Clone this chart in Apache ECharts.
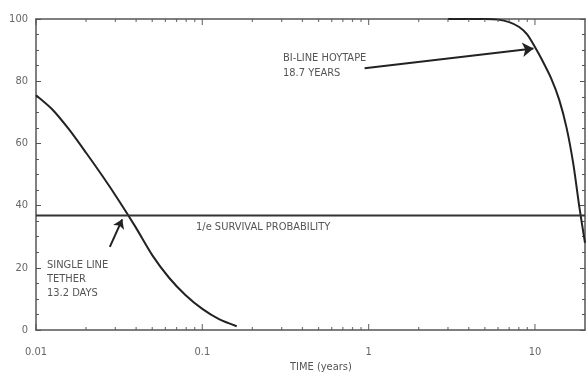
<!DOCTYPE html>
<html><head><meta charset="utf-8">
<script src="https://cdn.jsdelivr.net/npm/echarts@6/dist/echarts.min.js"></script>
<style>html,body{margin:0;padding:0;background:#fff}#c{width:587px;height:374px}</style>
</head><body><div id="c"></div>
<script>
// ---- data ----
const singleLineX = [0.01, 0.0125, 0.0158, 0.02, 0.0251, 0.0316, 0.0398, 0.0501, 0.0631, 0.0794, 0.1, 0.126, 0.161];
const singleLineY = [75.5, 71.0, 64.5, 57.0, 49.5, 41.5, 33.0, 24.0, 16.8, 11.2, 6.8, 3.5, 1.2];
const hoytapeX = [3, 5.0, 6.0, 7.0, 8.0, 9.0, 10.0, 11.0, 12.5, 14.0, 15.5, 17.0, 18.5, 20];
const hoytapeY = [100, 100, 99.8, 99.0, 97.5, 95.0, 91.0, 87.0, 81.0, 74.0, 65.0, 53.5, 39.5, 28];
const survivalX = [0.01, 20];
const survivalY = [36.8, 36.8];
const xMajorTicks = [0.01, 0.1, 1, 10];
const xMinorTicks = [0.02,0.03,0.04,0.05,0.06,0.07,0.08,0.09,0.2,0.3,0.4,0.5,0.6,0.7,0.8,0.9,2,3,4,5,6,7,8,9];
const xRange = [0.01, 20];
const yRange = [0, 100];

const pairs = (xs, ys) => xs.map((x, i) => [x, ys[i]]);
const FONT = "'DejaVu Sans Condensed','Liberation Sans Narrow',sans-serif";
const AX = '#555';
const MAJ = 6, MIN = 3;

const chart = echarts.init(document.getElementById('c'), null, {renderer: 'canvas'});

function xMain(position, labels) {
  return {
    type: 'log', logBase: 10, position, min: xRange[0], max: xRange[1],
    axisLine: {show: true, onZero: false, lineStyle: {color: AX, width: 1.5}},
    axisTick: {show: false},
    axisLabel: labels ? {show: true, customValues: xMajorTicks, color: '#666', fontFamily: FONT, fontSize: 11, margin: 17,
      formatter: v => String(v)} : {show: false},
    splitLine: {show: false}, minorTick: {show: false}
  };
}
function yAx(position, labels) {
  return {
    type: 'value', position, min: yRange[0], max: yRange[1], interval: 20,
    axisLine: {show: true, onZero: false, lineStyle: {color: AX, width: 1.5}},
    axisTick: {show: true, inside: true, length: 5, lineStyle: {color: AX}},
    minorTick: {show: true, splitNumber: 4, length: 3, lineStyle: {color: AX}},
    axisLabel: labels ? {show: true, color: '#666', fontFamily: FONT, fontSize: 11, margin: 8} : {show: false},
    splitLine: {show: false}
  };
}
// inward tick marks on the log x-axis frame, placed through the axis scale
function tickSeries(values, yEdge, len) {
  const dir = yEdge === yRange[0] ? -1 : 1;
  return {
    type: 'scatter', xAxisIndex: 0, yAxisIndex: 0, silent: true, clip: false, z: 3,
    data: values.map(v => [v, yEdge]),
    symbol: 'rect', symbolSize: [1.2, len], symbolOffset: [0, dir * len / 2],
    itemStyle: {color: AX}
  };
}

chart.setOption({
  animation: false,
  backgroundColor: '#fff',
  grid: {left: 36, right: 2, top: 19, bottom: 44},
  xAxis: [xMain('bottom', true), xMain('top', false)],
  yAxis: [yAx('left', true), yAx('right', false)],
  series: [
    tickSeries(xMajorTicks, yRange[0], MAJ),
    tickSeries(xMinorTicks, yRange[0], MIN),
    tickSeries(xMajorTicks, yRange[1], MAJ),
    tickSeries(xMinorTicks, yRange[1], MIN),
    {
      name: 'Single line tether', type: 'line', xAxisIndex: 0, yAxisIndex: 0,
      data: pairs(singleLineX, singleLineY), showSymbol: false, smooth: 0.25,
      lineStyle: {color: '#222', width: 2},
      markLine: {
        silent: true, symbol: ['none', 'arrow'], symbolSize: 9,
        lineStyle: {color: '#222', width: 2, type: 'solid'}, label: {show: false},
        data: [[{coord: [0.0278, 26.7]}, {coord: [0.0330, 35.6]}]]
      }
    },
    {
      name: 'Bi-line Hoytape', type: 'line', xAxisIndex: 0, yAxisIndex: 0,
      data: pairs(hoytapeX, hoytapeY), showSymbol: false, smooth: 0.25,
      lineStyle: {color: '#222', width: 2},
      markLine: {
        silent: true, symbol: ['none', 'arrow'], symbolSize: 11,
        lineStyle: {color: '#222', width: 2, type: 'solid'}, label: {show: false},
        data: [[{coord: [0.946, 84.2]}, {coord: [9.8, 90.5]}]]
      }
    },
    {
      name: '1/e', type: 'line', xAxisIndex: 0, yAxisIndex: 0,
      data: pairs(survivalX, survivalY), showSymbol: false,
      lineStyle: {color: '#333', width: 2}
    }
  ],
  graphic: [
    {type: 'text', left: 283, top: 51, style: {text: 'BI-LINE HOYTAPE\n18.7 YEARS', fill: '#555', font: "11px " + FONT, lineHeight: 15}},
    {type: 'text', left: 196, top: 222, style: {text: '1/e SURVIVAL PROBABILITY', fill: '#555', font: "11px " + FONT}},
    {type: 'text', left: 47, top: 258, style: {text: 'SINGLE LINE\nTETHER\n13.2 DAYS', fill: '#555', font: "11px " + FONT, lineHeight: 14}},
    {type: 'text', left: 290, top: 362, style: {text: 'TIME (years)', fill: '#555', font: "11px " + FONT}}
  ]
});
</script></body></html>
